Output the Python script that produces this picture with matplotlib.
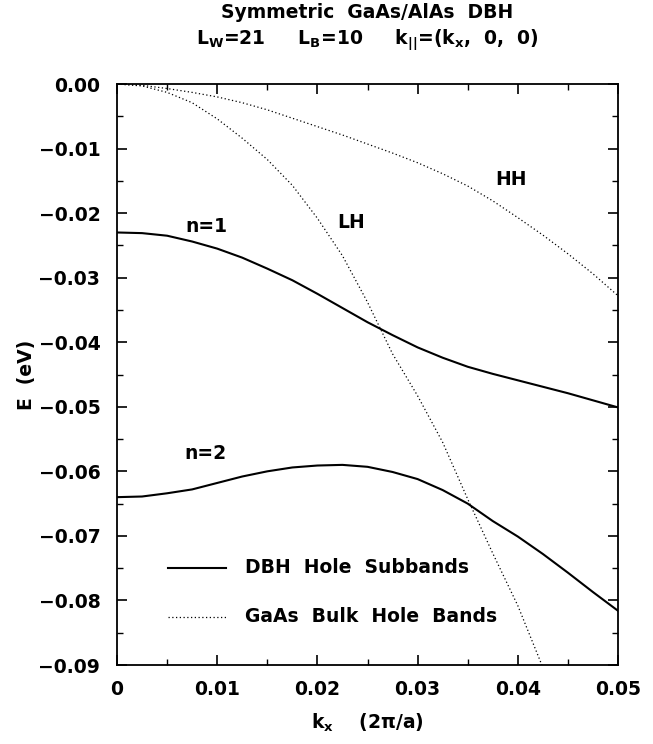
import matplotlib.pyplot as plt
from matplotlib.ticker import MultipleLocator, FuncFormatter

plt.rcParams['font.family'] = 'DejaVu Sans'
plt.rcParams['font.weight'] = 'bold'
plt.rcParams['axes.labelweight'] = 'bold'
plt.rcParams['mathtext.fontset'] = 'dejavusans'

# k_x grid (2pi/a) shared by the subbands and HH
k = [0, 0.0025, 0.005, 0.0075, 0.01, 0.0125, 0.015, 0.0175, 0.02, 0.0225, 0.025,
     0.0275, 0.03, 0.0325, 0.035, 0.0375, 0.04, 0.0425, 0.045, 0.0475, 0.05]

# DBH hole subbands (solid)
e_n1 = [-0.0230, -0.0231, -0.0235, -0.0244, -0.0255, -0.0269, -0.0286, -0.0304,
        -0.0325, -0.0347, -0.0369, -0.0389, -0.0408, -0.0424, -0.0438, -0.0449,
        -0.0459, -0.0469, -0.0479, -0.0490, -0.0501]
e_n2 = [-0.0640, -0.0639, -0.0634, -0.0628, -0.0618, -0.0608, -0.0600, -0.0594,
        -0.0591, -0.0590, -0.0593, -0.0601, -0.0612, -0.0629, -0.0650, -0.0677,
        -0.0701, -0.0728, -0.0757, -0.0787, -0.0816]

# GaAs bulk hole bands (dotted)
e_hh = [0, -0.0002, -0.0007, -0.0013, -0.0020, -0.0029, -0.0040, -0.0053, -0.0066,
        -0.0079, -0.0093, -0.0107, -0.0122, -0.0139, -0.0158, -0.0181, -0.0207,
        -0.0234, -0.0263, -0.0294, -0.0328]
k_lh = [0, 0.0025, 0.005, 0.0075, 0.01, 0.0125, 0.015, 0.0175, 0.02, 0.0225, 0.025,
        0.0275, 0.03, 0.0325, 0.035, 0.0375, 0.04, 0.0424]
e_lh = [0, -0.0003, -0.0013, -0.0029, -0.0054, -0.0084, -0.0117, -0.0157, -0.0208,
        -0.0266, -0.0338, -0.0418, -0.0483, -0.0555, -0.0643, -0.0727, -0.0808, -0.0900]

fs = 13.5
fig = plt.figure(figsize=(6.53, 7.44), dpi=100)
ax = fig.add_axes([117 / 653, 1 - 665 / 744, 501 / 653, 581 / 744])

dot = (0, (1, 2))
ax.plot(k, e_n1, color='black', lw=1.5)
ax.plot(k, e_n2, color='black', lw=1.5)
ax.plot(k, e_hh, color='black', lw=0.9, linestyle=dot)
ax.plot(k_lh, e_lh, color='black', lw=0.9, linestyle=dot)

ax.set_xlim(0, 0.05)
ax.set_ylim(-0.09, 0)

ax.xaxis.set_major_locator(MultipleLocator(0.01))
ax.xaxis.set_minor_locator(MultipleLocator(0.005))
ax.yaxis.set_major_locator(MultipleLocator(0.01))
ax.yaxis.set_minor_locator(MultipleLocator(0.005))
ax.xaxis.set_major_formatter(FuncFormatter(lambda v, p: '0' if abs(v) < 1e-9 else '%.2f' % v))
ax.yaxis.set_major_formatter(FuncFormatter(lambda v, p: '0.00' if abs(v) < 1e-9 else ('%.2f' % v).replace('-', '\u2212')))
ax.tick_params(which='both', direction='in', top=True, right=True, labelsize=fs)
ax.tick_params(which='major', length=7, width=1.2)
ax.tick_params(which='minor', length=4, width=1.0)
ax.tick_params(axis='y', which='major', pad=12)
ax.tick_params(axis='x', which='major', pad=11)
for s in ax.spines.values():
    s.set_linewidth(1.3)

ax.set_xlabel(r'k$_\mathregular{x}$    (2π/a)', fontsize=fs, labelpad=9)
ax.set_ylabel('E  (eV)', fontsize=fs, labelpad=2)

ax.text(0.0089, -0.0221, 'n=1', fontsize=fs, ha='center', va='center')
ax.text(0.0234, -0.0214, 'LH', fontsize=fs, ha='center', va='center')
ax.text(0.0393, -0.0148, 'HH', fontsize=fs, ha='center', va='center')
ax.text(0.0088, -0.0573, 'n=2', fontsize=fs, ha='center', va='center')

# legend drawn by hand
ax.plot([0.0051, 0.0109], [-0.0749, -0.0749], color='black', lw=1.5)
ax.text(0.0128, -0.0749, 'DBH  Hole  Subbands', fontsize=fs, va='center')
ax.plot([0.0051, 0.0109], [-0.0825, -0.0825], color='black', lw=0.9, linestyle=dot)
ax.text(0.0128, -0.0825, 'GaAs  Bulk  Hole  Bands', fontsize=fs, va='center')

xc = (117 + 618) / 2 / 653
fig.text(xc, 1 - 13 / 744, 'Symmetric  GaAs/AlAs  DBH', fontsize=fs, ha='center', va='center')
fig.text(xc, 1 - 40 / 744,
         r'L$_\mathregular{W}$=21     L$_\mathregular{B}$=10     k$_\mathregular{||}$=(k$_\mathregular{x}$,  0,  0)',
         fontsize=fs, ha='center', va='center')

fig.savefig('out.png', dpi=100)
